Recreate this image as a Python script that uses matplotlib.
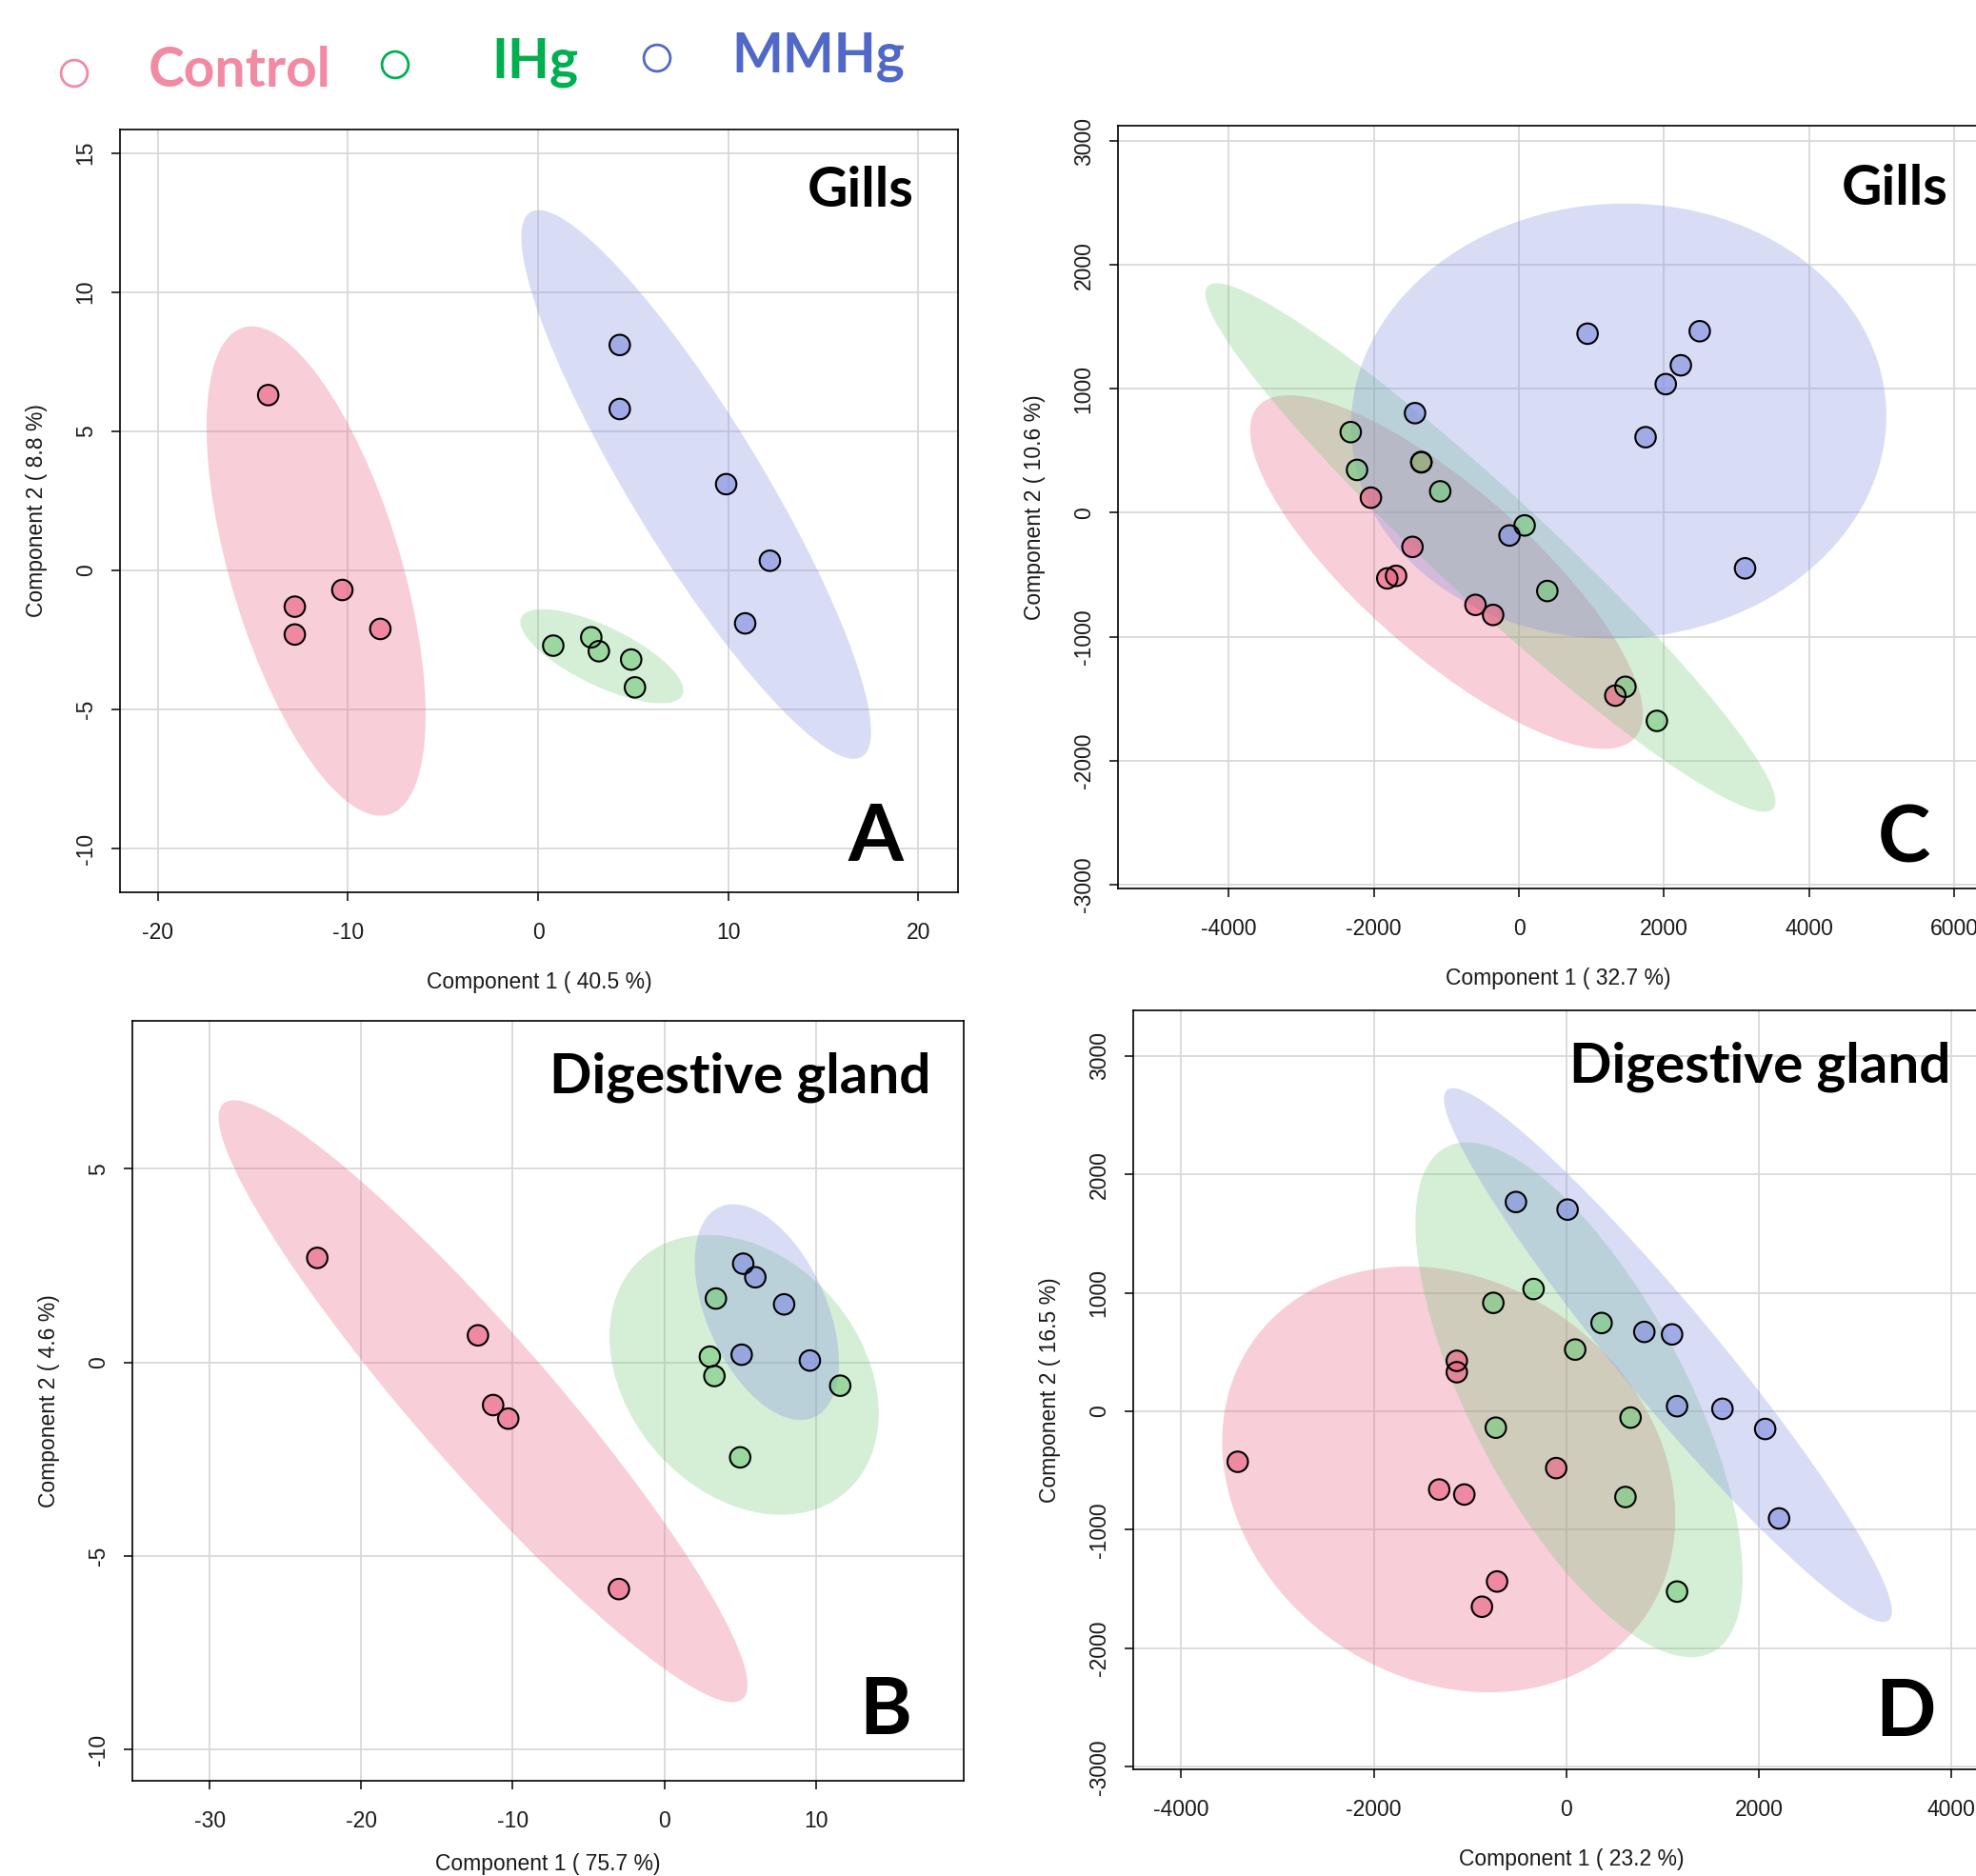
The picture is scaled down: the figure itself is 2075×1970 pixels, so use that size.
import numpy as np
import matplotlib
matplotlib.use("Agg")
import matplotlib.pyplot as plt
from matplotlib.patches import Ellipse

# ---- data ----
groups = ["Control", "IHg", "MMHg"]

# A: gills, PCA
gills_a_control = [(-14.2, 6.3), (-12.8, -1.3), (-12.8, -2.3), (-10.3, -0.7), (-8.3, -2.1)]
gills_a_ihg = [(0.8, -2.7), (2.8, -2.4), (3.2, -2.9), (4.9, -3.2), (5.1, -4.2)]
gills_a_mmhg = [(4.3, 8.1), (4.3, 5.8), (9.9, 3.1), (12.2, 0.35), (10.9, -1.9)]

# B: digestive gland, PCA
dg_b_control = [(-22.9, 2.7), (-12.3, 0.7), (-11.3, -1.1), (-10.3, -1.45), (-3.0, -5.85)]
dg_b_ihg = [(3.4, 1.65), (3.0, 0.15), (3.3, -0.35), (5.0, -2.45), (11.6, -0.6)]
dg_b_mmhg = [(5.2, 2.55), (6.0, 2.2), (7.9, 1.5), (5.1, 0.2), (9.6, 0.05)]

# C: gills, second analysis
gills_c_control = [(-2040, 122), (-1467, -275), (-1814, -529), (-1693, -509),
                   (-599, -743), (-356, -824), (1328, -1475), (-1345, 410)]
gills_c_ihg = [(-2318, 651), (-2231, 346), (-1345, 407), (-1085, 173),
               (78, -102), (391, -631), (1467, -1404), (1901, -1679)]
gills_c_mmhg = [(946, 1445), (2491, 1465), (2231, 1190), (2023, 1038),
                (1745, 610), (-1432, 804), (3116, -448), (-130, -183)]

# D: digestive gland, second analysis
dg_d_control = [(-1137, 426), (-1137, 330), (-3412, -426), (-1320, -660),
                (-1059, -702), (-105, -479), (-719, -1436), (-876, -1649)]
dg_d_ihg = [(-758, 915), (-340, 1032), (366, 745), (92, 521),
            (667, -53), (-732, -138), (614, -723), (1150, -1521)]
dg_d_mmhg = [(-523, 1766), (13, 1702), (810, 670), (1098, 649),
             (1150, 43), (1621, 21), (2065, -149), (2209, -904)]

xlabels = ["Component 1 ( 40.5 %)", "Component 1 ( 75.7 %)",
           "Component 1 ( 32.7 %)", "Component 1 ( 23.2 %)"]
ylabels = ["Component 2 ( 8.8 %)", "Component 2 ( 4.6 %)",
           "Component 2 ( 10.6 %)", "Component 2 ( 16.5 %)"]
tissues = ["Gills", "Digestive gland", "Gills", "Digestive gland"]
letters = ["A", "B", "C", "D"]

COLS = ["#EB5F80", "#76CA7D", "#808EE1"]
LEG_COLS = ["#F18AA2", "#00B04F", "#5068C8"]
W, H = 2075, 1970
T95 = np.sqrt(-2 * np.log(0.05))     # sqrt(qchisq(0.95, 2))


def conf_ellipse(ax, pts, color):
    P = np.asarray(pts, float)
    mu = P.mean(axis=0)
    cov = np.cov(P.T)
    vals, vecs = np.linalg.eigh(cov)
    ang = np.degrees(np.arctan2(vecs[1, 1], vecs[0, 1]))
    e = Ellipse(mu, 2 * T95 * np.sqrt(vals[1]), 2 * T95 * np.sqrt(vals[0]),
                angle=ang, fc=color, ec="none", alpha=0.3, zorder=2)
    ax.add_patch(e)


def px_axes(left, top, right, bottom):
    return fig.add_axes([left / W, 1 - bottom / H, (right - left) / W, (bottom - top) / H])


def panel(ax, data, xlim, ylim, xticks, yticks, xl, yl, tissue, tpos, letter, lpos, xpad=21):
    for pts, c in zip(data, COLS):
        conf_ellipse(ax, pts, c)
    for pts, c in zip(data, COLS):
        P = np.asarray(pts, float)
        ax.scatter(P[:, 0], P[:, 1], s=240, fc=c, alpha=0.62, ec="none", zorder=3)
        ax.scatter(P[:, 0], P[:, 1], s=240, fc="none", ec="black", lw=1.5, zorder=4)
    ax.set_xlim(xlim)
    ax.set_ylim(ylim)
    ax.set_xticks(xticks)
    ax.set_yticks(yticks)
    ax.set_xticklabels([f"{v:g}" for v in xticks])
    ax.set_yticklabels([f"{v:g}" for v in yticks], va="center")
    ax.grid(True, color="#D9D9D9", lw=1.3, zorder=1)
    ax.set_axisbelow(True)
    ax.tick_params(direction="out", length=6.5, width=1.1, labelsize=16.5,
                   labelcolor="#1a1a1a", pad=16)
    ax.tick_params(axis="y", labelrotation=90, pad=11)
    for s in ax.spines.values():
        s.set_linewidth(1.2)
    ax.set_xlabel(xl, fontsize=16.5, color="#1a1a1a", labelpad=xpad)
    ax.set_ylabel(yl, fontsize=16.5, color="#1a1a1a", labelpad=21)
    ax.text(tpos[0], tpos[1], tissue, transform=ax.transAxes, ha="right", va="baseline",
            fontsize=42, fontweight="bold", family="Lato", zorder=6)
    ax.text(lpos[0], lpos[1], letter, transform=ax.transAxes, ha="right", va="baseline",
            fontsize=60, fontweight="bold", family="Lato", zorder=6)


plt.rcParams["font.family"] = ["Liberation Sans", "DejaVu Sans"]
fig = plt.figure(figsize=(W / 100, H / 100), dpi=100)

axA = px_axes(126, 136, 1006, 937)
panel(axA, [gills_a_control, gills_a_ihg, gills_a_mmhg], (-22, 22.1), (-11.56, 15.84),
      [-20, -10, 0, 10, 20], [-10, -5, 0, 5, 10, 15], xlabels[0], ylabels[0],
      tissues[0], (0.947, 0.899), letters[0], (0.935, 0.041))

axB = px_axes(139, 1072, 1012, 1870)
panel(axB, [dg_b_control, dg_b_ihg, dg_b_mmhg], (-35.1, 19.75), (-10.8, 8.82),
      [-30, -20, -10, 0, 10], [-10, -5, 0, 5], xlabels[1], ylabels[1],
      tissues[1], (0.96, 0.905), letters[1], (0.937, 0.062), xpad=16)

axC = px_axes(1174, 132, 2098, 933)
panel(axC, [gills_c_control, gills_c_ihg, gills_c_mmhg], (-5525, 6600), (-3031, 3123),
      [-4000, -2000, 0, 2000, 4000, 6000], [-3000, -2000, -1000, 0, 1000, 2000, 3000],
      xlabels[2], ylabels[2], tissues[2], (0.943, 0.896), letters[2], (0.923, 0.034))

axD = px_axes(1190, 1061, 2110, 1858)
panel(axD, [dg_d_control, dg_d_ihg, dg_d_mmhg], (-4497, 4600), (-3021, 3383),
      [-4000, -2000, 0, 2000, 4000], [-3000, -2000, -1000, 0, 1000, 2000, 3000],
      xlabels[3], ylabels[3], tissues[3], (0.933, 0.905), letters[3], (0.916, 0.044))

# legend strip along the top, in figure pixels
lg = fig.add_axes([0, 0, 1, 1], zorder=10)
lg.set_xlim(0, W)
lg.set_ylim(H, 0)
lg.axis("off")
circ_x = [78, 415, 690]
circ_y = [77, 68, 61]
text_x = [156, 516, 768]
text_base = [91, 81, 75]
for g, c, cx, cy, tx, tb in zip(groups, LEG_COLS, circ_x, circ_y, text_x, text_base):
    lg.scatter([cx], [cy], s=400, fc="none", ec=c, lw=2)
    lg.text(tx, tb, g, color=c, fontsize=41, fontweight="bold", family="Lato",
            ha="left", va="baseline")

fig.savefig("out.png", dpi=100)
